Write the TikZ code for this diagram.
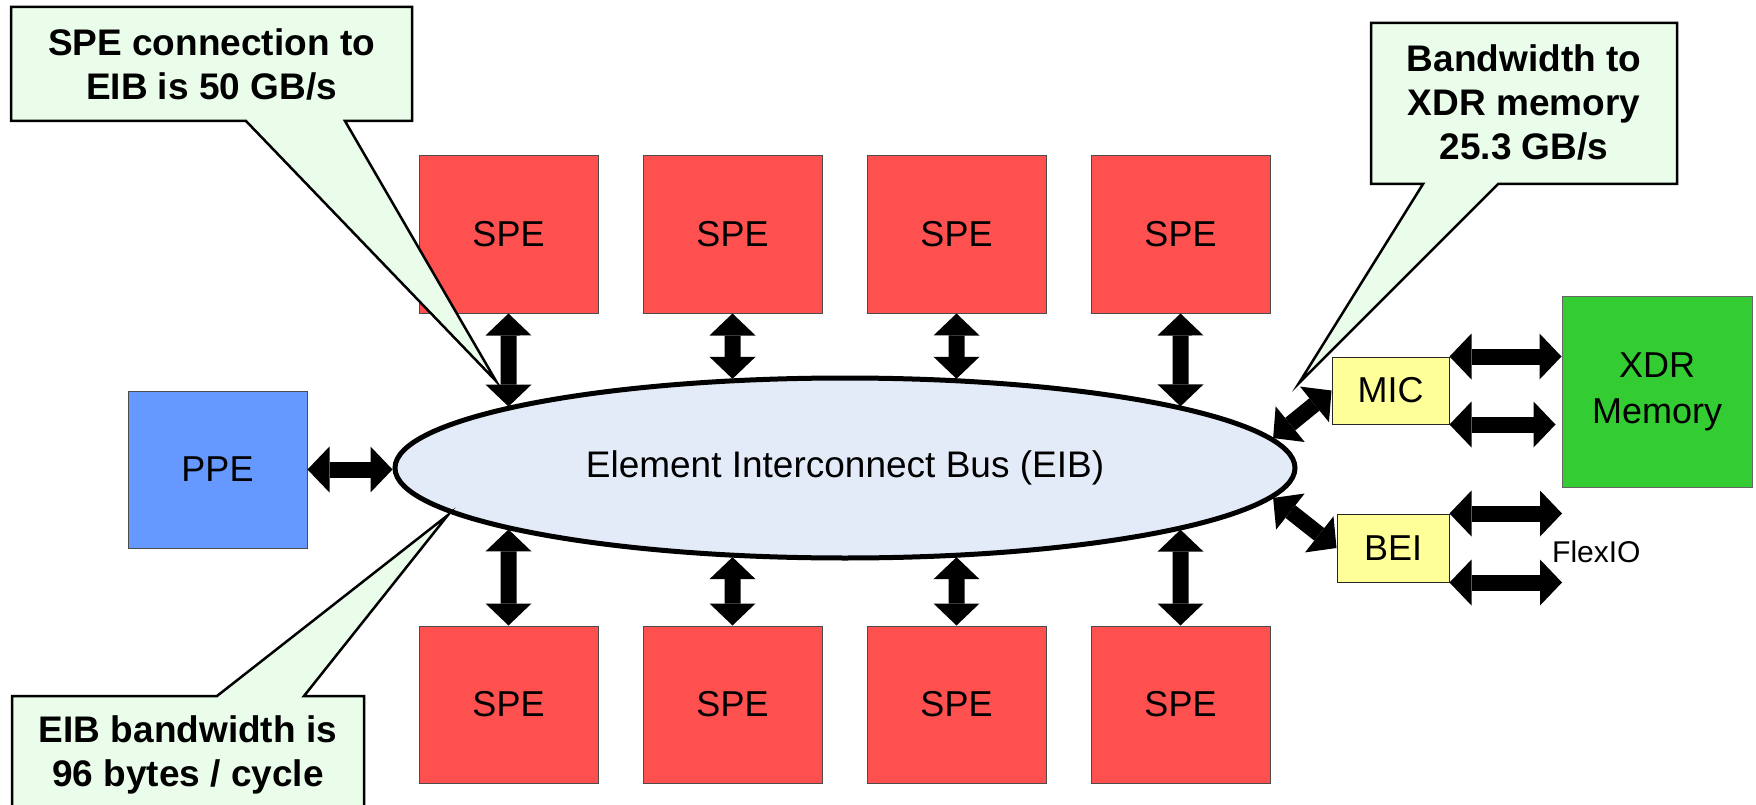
\documentclass[tikz,border=0pt]{standalone}
\usepackage{fontspec}
\setmainfont{Liberation Sans}
\usetikzlibrary{arrows.meta,shapes.geometric,intersections}

\definecolor{speRed}{RGB}{255,80,80}
\definecolor{ppeBlue}{RGB}{102,153,255}
\definecolor{xdrGreen}{RGB}{51,204,51}
\definecolor{ifYellow}{RGB}{255,255,153}
\definecolor{eibFill}{RGB}{228,235,248}
\definecolor{noteGreen}{RGB}{234,253,234}

\begin{document}
\begin{tikzpicture}[x=1pt,y=-1pt,
  unit/.style={draw=black!70, line width=1pt, inner sep=0pt,
    minimum width=179pt, minimum height=157pt,
    font=\fontsize{36}{44}\selectfont},
  spe/.style={unit, fill=speRed},
  iface/.style={draw=black!85, line width=1pt, fill=ifYellow, inner sep=0pt,
    minimum height=67pt, font=\fontsize{36}{44}\selectfont},
  busarrow/.style={line width=16pt,
    {Triangle[width=46pt,length=22pt,line width=0pt]}-{Triangle[width=46pt,length=22pt,line width=0pt]}},
  note/.style={draw=black, line width=2.5pt, fill=noteGreen, line join=miter},
  notetext/.style={align=center, inner sep=0pt,
    font=\fontsize{37}{44}\selectfont\bfseries},
]
\useasboundingbox (0,0) rectangle (1756,805);
\clip (0,0) rectangle (1756,805);

% synergistic processing elements, above and below the bus
\foreach \i/\x in {1/508.5,2/732.5,3/956.5,4/1180.5} {
  \node[spe] (t\i) at (\x,234.5) {SPE};
  \node[spe] (b\i) at (\x,704.5) {SPE};
}

% power processing element
\node[unit, fill=ppeBlue] (ppe) at (217.5,469.5) {PPE};

% the ring bus
\node[ellipse, draw, line width=5pt, fill=eibFill, inner sep=0pt,
  minimum width=900pt, minimum height=180pt,
  font=\fontsize{37}{44}\selectfont] (eib) at (845,468)
  {Element Interconnect Bus (EIB)};
\path[name path=eibedge] (eib.center) ellipse [x radius=452, y radius=92];

% memory and I/O interfaces
\node[iface, minimum width=117pt] (mic) at (1390.5,390.5) {MIC};
\node[iface, minimum width=112pt, minimum height=68pt] (bei) at (1393,548) {BEI};
\node[unit, fill=xdrGreen, draw=black!60, minimum width=190pt, minimum height=191pt,
  align=center, font=\fontsize{36}{46}\selectfont] (xdr) at (1657,391.5) {XDR\\Memory};
\node[anchor=base west, inner sep=0pt, font=\fontsize{30}{36}\selectfont]
  (flex) at (1552,562) {FlexIO};

% SPE <-> EIB links
\foreach \i in {1,...,4} {
  \path[name path=up\i] (t\i.south) -- ++(0,200);
  \path[name path=dn\i] (b\i.north) -- ++(0,-200);
  \path[name intersections={of={up\i} and eibedge, by=tu\i}];
  \path[name intersections={of={dn\i} and eibedge, by=bu\i}];
  \draw[busarrow] (t\i.south) -- (tu\i);
  \draw[busarrow] (b\i.north) -- (bu\i);
}

% PPE, MIC and BEI links
\draw[busarrow] (ppe.east) -- (ppe.east -| eib.west);
\draw[busarrow] (eib.4.2) -- (mic.west);
\draw[busarrow] (eib.-4) -- (bei.west);

% MIC <-> XDR memory
\coordinate (xdrend) at ([xshift=-6pt]xdr.west);
\draw[busarrow] (mic.north east) -- (mic.north east -| xdr.west);
\draw[busarrow] (mic.south east) -- (mic.south east -| xdrend);

% FlexIO ports
\coordinate (flexend) at (1562,0);
\draw[busarrow] (bei.north east) -- (bei.north east -| flexend);
\draw[busarrow] (bei.south east) -- (bei.south east -| flexend);

% callouts
\coordinate (p1) at (496,381);
\draw[note] (11,7) -- (412,7) -- (412,121) -- (345,121) -- (p1)
  -- (246,121) -- (11,121) -- cycle;
\node[notetext] (n1) at (211.5,64) {SPE connection to\\EIB is 50 GB/s};

\coordinate (p2) at (1299,383);
\draw[note] (1371,23) -- (1677,23) -- (1677,184) -- (1498,184) -- (p2)
  -- (1423,184) -- (1371,184) -- cycle;
\node[notetext] (n2) at (1524,102) {Bandwidth to\\XDR memory\\25.3 GB/s};

\coordinate (p3) at (448,515);
\draw[note] (12,696) -- (217,696) -- (p3) -- (304,696) -- (364,696)
  -- (364,830) -- (12,830) -- cycle;
\node[notetext] (n3) at (188,755) {EIB bandwidth is\\96 bytes / cycle};
\end{tikzpicture}
\end{document}
